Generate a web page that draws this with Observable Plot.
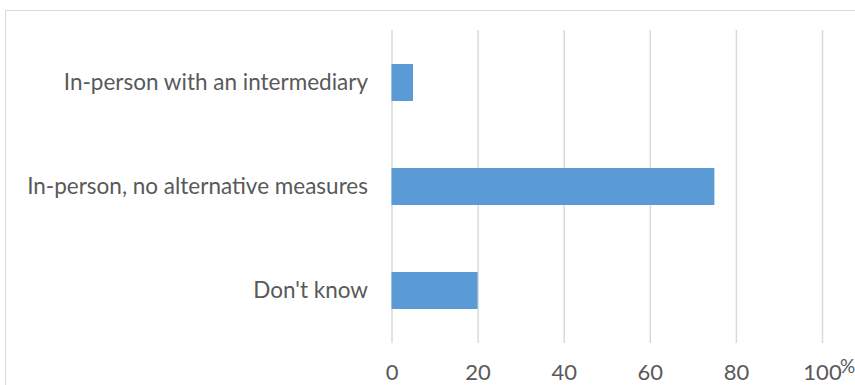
<!DOCTYPE html>
<html>
<head>
<meta charset="utf-8">
<script src="https://cdn.jsdelivr.net/npm/d3@7"></script>
<script src="https://cdn.jsdelivr.net/npm/@observablehq/plot@0.6"></script>
<style>
  html, body { margin: 0; padding: 0; background: #fff; }
  #wrap { position: relative; width: 855px; height: 385px; overflow: hidden; background: #fff; }
  #border { position: absolute; left: 5px; top: 10px; width: 900px; height: 420px; border: 1.5px solid #d9d9d9; box-sizing: border-box; }
  #chart { position: absolute; left: 0; top: 0; }
</style>
</head>
<body>
<div id="wrap"><div id="border"></div><div id="chart"></div></div>
<script>
const categories = ["In-person with an intermediary", "In-person, no alternative measures", "Don't know"];
const values = [5, 75, 20];
const xTicks = [0, 20, 40, 60, 80, 100];
const unitLabel = "%";

const data = categories.map((c, i) => ({category: c, value: values[i]}));

const chart = Plot.plot({
  width: 855,
  height: 385,
  marginLeft: 391.5,
  marginRight: 33,
  marginTop: 30,
  marginBottom: 42,
  style: {fontFamily: "Lato, sans-serif", fontSize: "22px", color: "#595959", background: "transparent"},
  x: {domain: [0, 100], ticks: xTicks},
  y: {domain: categories, paddingInner: 0.64, paddingOuter: 0.32},
  marks: [
    Plot.gridX(xTicks, {stroke: "#d9d9d9", strokeOpacity: 1, strokeWidth: 1.5}),
    Plot.barX(data, {x: "value", y: "category", fill: "#5b9bd5"}),
    Plot.axisX({ticks: xTicks, tickSize: 0, tickPadding: 21, label: null, fill: "#595959", fontSize: 22}),
    Plot.axisY({tickSize: 0, tickPadding: 24, label: null, fill: "#595959", fontSize: 22.5}),
    Plot.text([unitLabel], {frameAnchor: "bottom-right", text: d => d, textAnchor: "start", lineAnchor: "bottom", dx: 17.5, dy: 29, fill: "#595959", fontSize: 19})
  ]
});
document.getElementById("chart").appendChild(chart);
</script>
</body>
</html>
